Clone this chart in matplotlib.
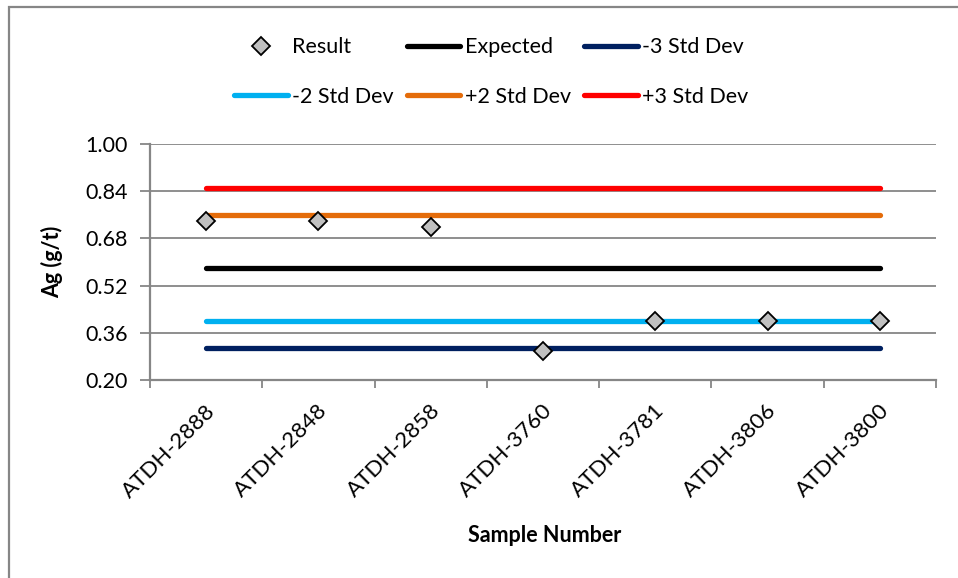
import matplotlib
matplotlib.use("Agg")
import matplotlib.pyplot as plt
from matplotlib.patches import Rectangle
from matplotlib.transforms import ScaledTranslation

samples = ["ATDH-2888", "ATDH-2848", "ATDH-2858", "ATDH-3760", "ATDH-3781", "ATDH-3806", "ATDH-3800"]
result = [0.74, 0.74, 0.72, 0.30, 0.40, 0.40, 0.40]
expected = [0.58, 0.58, 0.58, 0.58, 0.58, 0.58, 0.58]
minus3 = [0.31, 0.31, 0.31, 0.31, 0.31, 0.31, 0.31]
minus2 = [0.40, 0.40, 0.40, 0.40, 0.40, 0.40, 0.40]
plus2 = [0.76, 0.76, 0.76, 0.76, 0.76, 0.76, 0.76]
plus3 = [0.85, 0.85, 0.85, 0.85, 0.85, 0.85, 0.85]
yticks = [0.20, 0.36, 0.52, 0.68, 0.84, 1.00]

plt.rcParams['font.family'] = ['Lato', 'DejaVu Sans']
FS = 15.5
GRAY = '#868686'

fig = plt.figure(figsize=(9.58, 5.78), dpi=100)
W, H = 958, 578
ax = fig.add_axes([150 / W, 1 - 380 / H, (936 - 150) / W, (380 - 144) / H])

x = list(range(len(samples)))
lw = 3.8
h_exp, = ax.plot(x, expected, color='black', lw=lw, solid_capstyle='round', label='Expected', zorder=3)
h_m3, = ax.plot(x, minus3, color='#002060', lw=lw, solid_capstyle='round', label='-3 Std Dev', zorder=3)
h_m2, = ax.plot(x, minus2, color='#00B0F0', lw=lw, solid_capstyle='round', label='-2 Std Dev', zorder=3)
h_p2, = ax.plot(x, plus2, color='#E46C0A', lw=lw, solid_capstyle='round', label='+2 Std Dev', zorder=3)
h_p3, = ax.plot(x, plus3, color='#FF0000', lw=lw, solid_capstyle='round', label='+3 Std Dev', zorder=3)
h_res, = ax.plot(x, result, linestyle='none', marker='D', markersize=9, markerfacecolor='#C0C0C0',
                 markeredgecolor='black', markeredgewidth=1.3, label='Result', zorder=5)

ax.set_xlim(-0.5, len(samples) - 0.5)
ax.set_ylim(0.20, 1.00)
ax.set_yticks(yticks)
ax.set_yticklabels([f"{v:.2f}" for v in yticks], fontsize=FS)
ax.yaxis.grid(True, color=GRAY, lw=1.3, zorder=1)
ax.set_axisbelow(True)

ax.set_xticks([i - 0.5 for i in range(len(samples) + 1)], minor=False)
ax.set_xticklabels([])
ax.set_xticks(x, minor=True)
ax.set_xticklabels(samples, minor=True, rotation=45, ha='right', va='center',
                   rotation_mode='anchor', fontsize=16)
ax.tick_params(axis='x', which='minor', length=0, pad=20)
ax.tick_params(axis='x', which='major', length=6, width=1.3, color=GRAY)
ax.tick_params(axis='y', length=7, width=1.3, color=GRAY, pad=9)

shift = ScaledTranslation(6 / 100, 0, fig.dpi_scale_trans)
for lab in ax.get_xticklabels(minor=True):
    lab.set_transform(lab.get_transform() + shift)

for s in ['top', 'right']:
    ax.spines[s].set_visible(False)
for s in ['left', 'bottom']:
    ax.spines[s].set_color(GRAY)
    ax.spines[s].set_linewidth(1.6)

fig.text(52 / W, 1 - 262 / H, 'Ag (g/t)', rotation=90, ha='center', va='center',
         fontsize=FS, fontweight='bold')
fig.text(545 / W, 1 - 535 / H, 'Sample Number', ha='center', va='center',
         fontsize=FS, fontweight='bold')

handles = [h_res, h_m2, h_exp, h_p2, h_m3, h_p3]
fig.legend(handles=handles, labels=[h.get_label() for h in handles], ncol=3,
           loc='center', bbox_to_anchor=(491 / W, 1 - 72 / H), frameon=False,
           fontsize=FS, handlelength=2.5, handletextpad=0.2, columnspacing=0.6,
           labelspacing=1.35)

fig.add_artist(Rectangle((8.5 / W, -0.1), 1.2, 1 - 6.5 / H + 0.1, transform=fig.transFigure,
                         fill=False, edgecolor=GRAY, lw=1.6))

fig.savefig('out.png', dpi=100)
